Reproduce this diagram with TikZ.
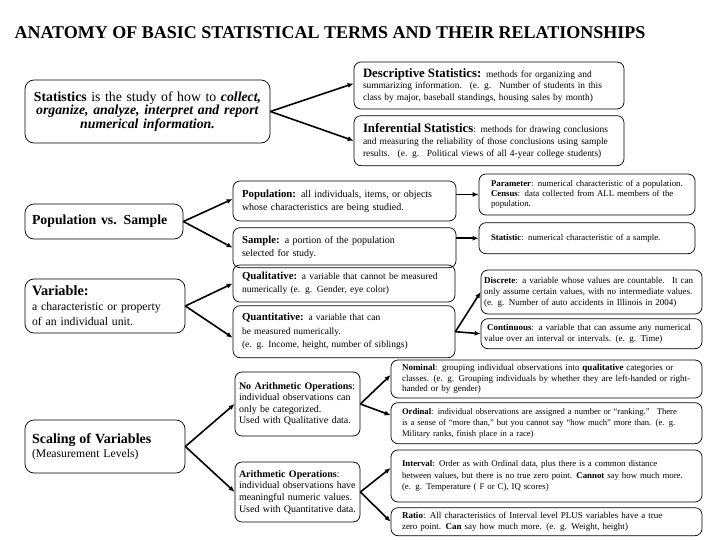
\documentclass[tikz,border=0pt]{standalone}
\usepackage{fontspec}
\setmainfont{Liberation Serif}
\usetikzlibrary{arrows.meta,positioning}
\newcommand{\termhead}{\fontsize{10.8}{12}\selectfont\bfseries}
\newcommand{\bighead}{\fontsize{12.8}{13}\selectfont\bfseries}

\begin{document}
\begin{tikzpicture}[
    x=1pt,y=-1pt,
    card/.style={draw=black,line width=0.7pt,rounded corners=7pt,align=left,inner ysep=2pt,font=\fontsize{9}{11.5}\selectfont},
    lead/.style={draw=black,line width=0.7pt,rounded corners=9pt,align=left,inner xsep=7pt,text width=146pt,minimum width=160pt,font=\fontsize{11.7}{15}\selectfont},
    link/.style={-{Latex[length=6pt,width=5pt]},line width=1.6pt}
  ]
    \useasboundingbox (0,0) rectangle (720,540);
    \node[anchor=west,font=\fontsize{18}{20}\selectfont\bfseries] (title) at (11,33) {ANATOMY OF BASIC STATISTICAL TERMS AND THEIR RELATIONSHIPS};

    % left column
    \node[lead,align=center,inner xsep=4pt,text width=237pt,minimum width=245pt,minimum height=63pt,font=\fontsize{13.8}{12.5}\selectfont] (stats) at (147.5,111.5)
      {\textbf{Statistics} is the study of how to \textbf{\textit{collect,}}\\ \textbf{\textit{organize, analyze, interpret and report}}\\ \textbf{\textit{numerical information.}}};
    \node[lead,text width=144pt,minimum width=158pt,minimum height=35pt,font=\fontsize{13.8}{14}\selectfont\bfseries] (popsam) at (104,221.5) {Population vs. Sample};
    \node[lead,minimum height=54pt] (variable) at (105,306)
      {{\fontsize{14.3}{15}\selectfont\bfseries Variable:}\\ a characteristic or property\\ of an individual unit.};
    \node[lead,minimum height=53pt,font=\fontsize{11.7}{14}\selectfont] (scaling) at (105,446.5)
      {{\fontsize{14}{15}\selectfont\bfseries Scaling of Variables}\\ (Measurement Levels)};

    % second column
    \node[card,inner xsep=9pt,text width=252pt,minimum height=47pt,font=\fontsize{9.4}{11.8}\selectfont] (desc) at (489,85.5)
      {{\bighead Descriptive Statistics:} methods for organizing and\\ summarizing information. \ (e. g. \ Number of students in this\\ class by major, baseball standings, housing sales by month)};
    \node[card,inner xsep=9pt,text width=252pt,minimum height=50pt,font=\fontsize{9.4}{12}\selectfont,below=6pt of desc] (infer)
      {{\bighead Inferential Statistics}: methods for drawing conclusions\\ and measuring the reliability of those conclusions using sample\\ results. \ (e. g. \ Political views of all 4-year college students)};
    \node[card,inner xsep=9pt,text width=205pt,minimum height=40pt,font=\fontsize{10}{13}\selectfont] (pop) at (344.5,201)
      {{\termhead Population:} all individuals, items, or objects\\ whose characteristics are being studied.};
    \node[card,inner xsep=9pt,text width=205pt,minimum height=40pt,font=\fontsize{10}{13}\selectfont,below=6pt of pop] (samp)
      {{\termhead Sample:} a portion of the population\\ selected for study.};
    \node[card,inner xsep=9pt,text width=204pt,minimum height=37pt,font=\fontsize{9.5}{13}\selectfont] (qual) at (344,283.5)
      {{\termhead Qualitative:} a variable that cannot be measured\\ numerically (e. g. Gender, eye color)};
    \node[card,inner xsep=9pt,text width=204pt,minimum height=52pt,font=\fontsize{9.5}{13.5}\selectfont,below=3pt of qual] (quant)
      {{\termhead Quantitative:} a variable that can\\ be measured numerically.\\ (e. g. Income, height, number of siblings)};
    \node[card,inner xsep=4pt,text width=117pt,minimum height=64pt,font=\fontsize{10}{11.4}\selectfont] (noarith) at (297.5,404)
      {\textbf{No Arithmetic Operations}:\\ individual observations can\\ only be categorized.\\ Used with Qualitative data.};
    \node[card,inner xsep=4pt,text width=117pt,minimum height=60pt,font=\fontsize{10}{11.6}\selectfont] (arith) at (297.5,492)
      {\textbf{Arithmetic Operations}:\\ individual observations have\\ meaningful numeric values.\\ Used with Quantitative data.};

    % third column
    \node[card,inner xsep=12pt,text width=192pt,minimum height=41pt,font=\fontsize{8.8}{10.3}\selectfont] (param) at (587,194.5)
      {\textbf{Parameter}: numerical characteristic of a population.\\ \textbf{Census}: data collected from ALL members of the\\ population.};
    \node[card,inner xsep=12pt,text width=192pt,minimum height=31pt,font=\fontsize{8.8}{10.3}\selectfont,below=7pt of param] (statistic)
      {\textbf{Statistic}: numerical characteristic of a sample.};
    \node[card,inner xsep=3pt,text width=215pt,minimum height=44pt,font=\fontsize{9}{11}\selectfont] (discrete) at (591.5,292)
      {\textbf{Discrete}: a variable whose values are countable. \ It can\\ only assume certain values, with no intermediate values.\\ (e. g. Number of auto accidents in Illinois in 2004)};
    \node[card,inner xsep=3pt,text width=215pt,minimum height=30pt,font=\fontsize{9}{11}\selectfont,below=4pt of discrete] (cont)
      {\ \textbf{Continuous}: a variable that can assume any numerical\\ value over an interval or intervals. (e. g. Time)};
    \node[card,inner xsep=11pt,text width=289pt,minimum height=38pt,font=\fontsize{9}{10.8}\selectfont] (nominal) at (546.5,379)
      {\textbf{Nominal}: grouping individual observations into \textbf{qualitative} categories or\\ classes. (e. g. Grouping individuals by whether they are left-handed or right-\\ handed or by gender)};
    \node[card,inner xsep=11pt,text width=289pt,minimum height=41pt,font=\fontsize{8.6}{10.8}\selectfont,below=4pt of nominal] (ordinal)
      {\textbf{Ordinal}: individual observations are assigned a number or ``ranking.'' \ There\\ is a sense of ``more than,'' but you cannot say ``how much'' more than. (e. g.\\ Military ranks, finish place in a race)};
    \node[card,inner xsep=11pt,text width=289pt,minimum height=52pt,font=\fontsize{8.8}{11.8}\selectfont] (interval) at (546.5,476)
      {\textbf{Interval}: Order as with Ordinal data, plus there is a common distance\\ between values, but there is no true zero point. \textbf{Cannot} say how much more.\\ (e. g. Temperature ( F or C), IQ scores)};
    \node[card,inner xsep=11pt,text width=289pt,minimum height=28pt,font=\fontsize{9}{11}\selectfont,below=5pt of interval] (ratio)
      {\textbf{Ratio}: All characteristics of Interval level PLUS variables have a true\\ zero point. \textbf{Can} say how much more. (e. g. Weight, height)};

    % connectors
    \draw[link] (stats.east) -- ([yshift=2pt]desc.west);
    \draw[link] (stats.east) -- (infer.west);
    \draw[link] (popsam.east) -- ([yshift=2pt]pop.west);
    \draw[link] (popsam.east) -- (samp.west);
    \draw[link] (pop.east |- param.west) -- (param.west);
    \draw[link] (samp.east |- statistic.west) -- (statistic.west);
    \draw[link] (variable.east) -- (qual.west);
    \draw[link] (variable.east) -- ([yshift=-6pt]quant.west);
    \draw[link] (quant.east) -- (discrete.west);
    \draw[link] (quant.east) -- (cont.west);
    \draw[link] (scaling.east) -- (noarith.west);
    \draw[link] (scaling.east) -- (arith.west);
    \draw[link] (noarith.east) -- ([yshift=4pt]nominal.west);
    \draw[link] (noarith.east) -- ([yshift=8pt]ordinal.west);
    \draw[link] (arith.east) -- ([yshift=8pt]interval.west);
    \draw[link] (arith.east) -- (ratio.west);
  \end{tikzpicture}
\end{document}
